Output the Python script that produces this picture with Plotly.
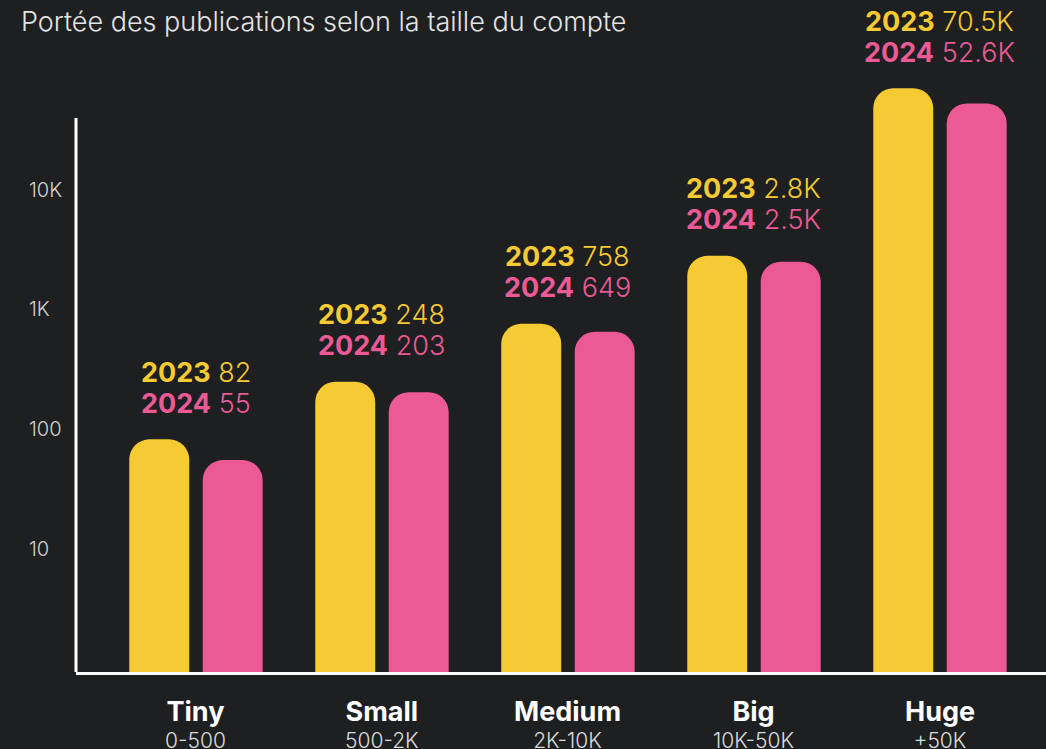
import math
import plotly.graph_objects as go

# Data
categories = ["Tiny", "Small", "Medium", "Big", "Huge"]
ranges = ["0-500", "500-2K", "2K-10K", "10K-50K", "+50K"]
reach_2023 = [82, 248, 758, 2800, 70500]
reach_2024 = [55, 203, 649, 2500, 52600]
labels_2023 = ["82", "248", "758", "2.8K", "70.5K"]
labels_2024 = ["55", "203", "649", "2.5K", "52.6K"]
y_ticks = [10, 100, 1000, 10000]
y_tick_text = ["10", "100", "1K", "10K"]

BG = "#1e1f21"
YELLOW = "#f5ca33"
PINK = "#ec5a96"
FONT = "Inter"

fig = go.Figure()
fig.add_trace(go.Bar(x=categories, y=reach_2023, name="2023",
                     marker=dict(color=YELLOW, line=dict(width=0), cornerradius=20)))
fig.add_trace(go.Bar(x=categories, y=reach_2024, name="2024",
                     marker=dict(color=PINK, line=dict(width=0), cornerradius=20)))

annotations = []
# value labels above each group: 2023 line, then 2024 line
for i, c in enumerate(categories):
    top = math.log10(max(reach_2023[i], reach_2024[i]))
    for label, colour, shift, year in ((labels_2023[i], YELLOW, 67, "2023"),
                                       (labels_2024[i], PINK, 36, "2024")):
        annotations.append(dict(x=c, y=top, xref="x", yref="y",
                                text=f"<b>{year}</b> {label}", showarrow=False,
                                xanchor="center", yanchor="middle", yshift=shift,
                                font=dict(family=FONT, size=27, color=colour, weight=300)))
# category name (bold) with its account-size range underneath
for c, r in zip(categories, ranges):
    txt = (f"<span style='font-size:27px;font-weight:bold;color:#ffffff'>{c}</span>"
           f"<br>{r}")
    annotations.append(dict(x=c, y=0, xref="x", yref="paper", text=txt,
                            showarrow=False, xanchor="center", yanchor="top", yshift=-21,
                            align="center",
                            font=dict(family=FONT, size=21, color="#dcdcdc", weight=300)))
# left-aligned y tick labels
for v, t in zip(y_ticks, y_tick_text):
    annotations.append(dict(x=-49 / 970, y=math.log10(v), xref="paper", yref="y",
                            text=t, showarrow=False, xanchor="left", yanchor="middle",
                            font=dict(family=FONT, size=20, color="#d4d4d4", weight=300)))

fig.update_layout(
    width=1046, height=749,
    paper_bgcolor=BG, plot_bgcolor=BG,
    margin=dict(l=76, r=0, t=0, b=77),
    barmode="group", bargap=0.21, bargroupgap=0.184,
    showlegend=False,
    title=dict(text="Portée des publications selon la taille du compte",
               x=21 / 1046, xanchor="left", y=1 - 22 / 749, yanchor="middle",
               font=dict(family=FONT, size=27, color="#e4e4e4", weight=300)),
    xaxis=dict(range=[-0.645, 4.57], showgrid=False, zeroline=False,
               showline=True, linecolor="#ffffff", linewidth=3,
               showticklabels=False, ticks=""),
    yaxis=dict(type="log", range=[-0.03, 5.585], showgrid=False, zeroline=False,
               showline=False, showticklabels=False, ticks=""),
    annotations=annotations,
    shapes=[dict(type="line", xref="paper", yref="paper", x0=0, x1=0,
                 y0=0, y1=(672 - 118) / 672, line=dict(color="#ffffff", width=3))],
)

fig.write_html("out.html")
